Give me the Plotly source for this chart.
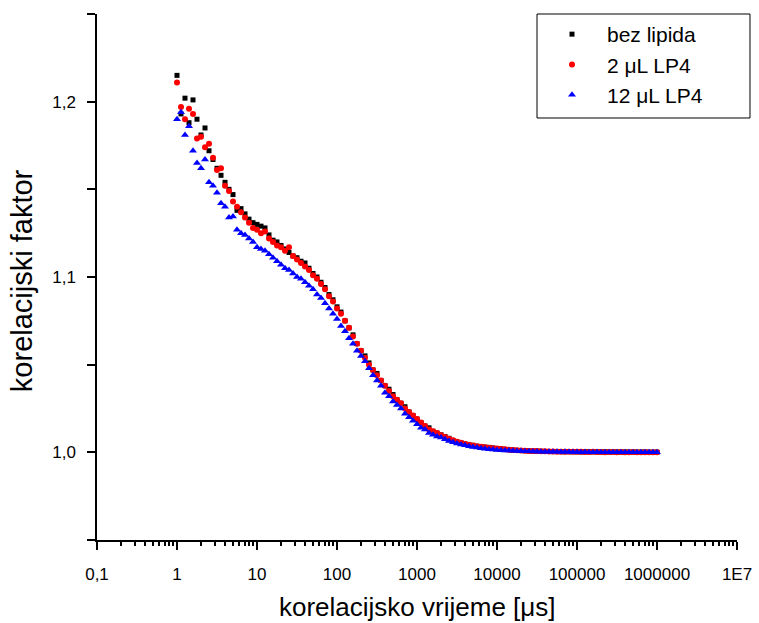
import plotly.graph_objects as go

# correlation time grid [µs]
tau_us = [
    1.0, 1.122, 1.259, 1.413, 1.585, 1.778, 1.995, 2.239, 2.512, 2.818,
    3.162, 3.548, 3.981, 4.467, 5.012, 5.623, 6.310, 7.079, 7.943, 8.913,
    10.0, 11.22, 12.59, 14.13, 15.85, 17.78, 19.95, 22.39, 25.12, 28.18,
    31.62, 35.48, 39.81, 44.67, 50.12, 56.23, 63.10, 70.79, 79.43, 89.13,
    100.0, 112.2, 125.9, 141.3, 158.5, 177.8, 199.5, 223.9, 251.2, 281.8,
    316.2, 354.8, 398.1, 446.7, 501.2, 562.3, 631.0, 707.9, 794.3, 891.3,
    1000.0, 1122.0, 1259.0, 1413.0, 1585.0, 1778.0, 1995.0, 2239.0, 2512.0, 2818.0,
    3162.0, 3548.0, 3981.0, 4467.0, 5012.0, 5623.0, 6310.0, 7079.0, 7943.0, 8913.0,
    10000.0, 11220.0, 12590.0, 14130.0, 15850.0, 17780.0, 19950.0, 22390.0, 25120.0, 28180.0,
    31620.0, 35480.0, 39810.0, 44670.0, 50120.0, 56230.0, 63100.0, 70790.0, 79430.0, 89130.0,
    100000.0, 112200.0, 125900.0, 141300.0, 158500.0, 177800.0, 199500.0, 223900.0, 251200.0, 281800.0,
    316200.0, 354800.0, 398100.0, 446700.0, 501200.0, 562300.0, 631000.0, 707900.0, 794300.0, 891300.0,
    1000000.0,
]

bez_lipida = [
    1.215, 1.193, 1.202, 1.188, 1.201, 1.190, 1.181, 1.185, 1.172, 1.167,
    1.162, 1.158, 1.154, 1.150, 1.147, 1.138, 1.139, 1.136, 1.133, 1.131,
    1.130, 1.129, 1.128, 1.124, 1.121, 1.120, 1.118, 1.116, 1.114, 1.112,
    1.111, 1.109, 1.108, 1.105, 1.102, 1.100, 1.097, 1.094, 1.090, 1.087,
    1.083, 1.080, 1.075, 1.071, 1.067, 1.062, 1.058, 1.055, 1.051, 1.047,
    1.045, 1.041, 1.038, 1.036, 1.033, 1.030, 1.028, 1.026, 1.023, 1.021,
    1.019, 1.017, 1.015, 1.014, 1.012, 1.011, 1.010, 1.009, 1.008, 1.0068,
    1.0060, 1.0055, 1.0048, 1.0043, 1.0040, 1.0035, 1.0032, 1.0030, 1.0028, 1.0025,
    1.0022, 1.0020, 1.0017, 1.0015, 1.0013, 1.0011, 1.0010, 1.0009, 1.0008, 1.0007,
    1.0007, 1.0006, 1.0005, 1.0005, 1.0004, 1.0005, 1.0004, 1.0003, 1.0004, 1.0003,
    1.0003, 1.0002, 1.0003, 1.0002, 1.0003, 1.0002, 1.0002, 1.0003, 1.0001, 1.0002,
    1.0002, 1.0001, 1.0002, 1.0001, 1.0002, 1.0001, 1.0001, 1.0002, 1.0000, 1.0001,
    1.0001,
]

lp4_2uL = [
    1.211, 1.197, 1.190, 1.196, 1.193, 1.179, 1.180, 1.174, 1.176, 1.168,
    1.161, 1.162, 1.152, 1.149, 1.143, 1.140, 1.137, 1.134, 1.131, 1.128,
    1.127, 1.125, 1.126, 1.122, 1.120, 1.118, 1.117, 1.115, 1.117, 1.112,
    1.110, 1.108, 1.106, 1.104, 1.101, 1.099, 1.096, 1.093, 1.089, 1.086,
    1.082, 1.079, 1.075, 1.071, 1.066, 1.062, 1.058, 1.054, 1.050, 1.047,
    1.044, 1.041, 1.038, 1.035, 1.032, 1.030, 1.028, 1.025, 1.023, 1.021,
    1.019, 1.017, 1.015, 1.013, 1.012, 1.011, 1.0098, 1.0088, 1.0078, 1.0069,
    1.0061, 1.0054, 1.0048, 1.0043, 1.0039, 1.0035, 1.0032, 1.0029, 1.0026, 1.0024,
    1.0022, 1.0019, 1.0017, 1.0015, 1.0013, 1.0012, 1.0010, 1.0009, 1.0008, 1.0008,
    1.0007, 1.0006, 1.0006, 1.0005, 1.0005, 1.0004, 1.0004, 1.0004, 1.0003, 1.0003,
    1.0003, 1.0003, 1.0002, 1.0002, 1.0003, 1.0002, 1.0002, 1.0001, 1.0002, 1.0002,
    1.0001, 1.0002, 1.0001, 1.0001, 1.0002, 1.0001, 1.0001, 1.0001, 1.0000, 1.0001,
    1.0001,
]

lp4_12uL = [
    1.190, 1.194, 1.181, 1.186, 1.172, 1.165, 1.162, 1.167, 1.154, 1.152,
    1.148, 1.142, 1.140, 1.134, 1.1345, 1.127, 1.125, 1.124, 1.122, 1.120,
    1.117, 1.116, 1.115, 1.113, 1.111, 1.109, 1.107, 1.105, 1.104, 1.102,
    1.100, 1.099, 1.097, 1.095, 1.093, 1.090, 1.088, 1.085, 1.082, 1.079,
    1.076, 1.072, 1.069, 1.065, 1.062, 1.058, 1.055, 1.052, 1.048, 1.044,
    1.041, 1.038, 1.034, 1.032, 1.029, 1.027, 1.025, 1.022, 1.020, 1.018,
    1.016, 1.014, 1.013, 1.011, 1.010, 1.009, 1.0085, 1.0075, 1.0065, 1.0058,
    1.0050, 1.0045, 1.0040, 1.0035, 1.0030, 1.0027, 1.0024, 1.0021, 1.0018, 1.0016,
    1.0014, 1.0012, 1.0011, 1.0010, 1.0009, 1.0008, 1.0007, 1.0006, 1.0006, 1.0005,
    1.0005, 1.0004, 1.0004, 1.0003, 1.0003, 1.0003, 1.0002, 1.0003, 1.0002, 1.0002,
    1.0002, 1.0001, 1.0002, 1.0001, 1.0001, 1.0002, 1.0001, 1.0001, 1.0000, 1.0001,
    1.0001, 1.0000, 1.0001, 1.0001, 1.0000, 1.0001, 1.0000, 1.0001, 1.0000, 1.0000,
    1.0001,
]

x_tick_vals = [0.1, 1, 10, 100, 1000, 10000, 100000, 1000000, 10000000]
x_tick_text = ["0,1", "1", "10", "100", "1000", "10000", "100000", "1000000", "1E7"]
y_tick_vals = [1.0, 1.1, 1.2]
y_tick_text = ["1,0", "1,1", "1,2"]
y_minor_vals = [0.95, 1.05, 1.15, 1.25]

x_minor_vals = [m * 10.0 ** d for d in range(-1, 7) for m in range(2, 10)]

fig = go.Figure()
fig.add_trace(go.Scatter(x=tau_us, y=bez_lipida, mode="markers", name="bez lipida",
                         marker=dict(symbol="square", size=5, color="black")))
fig.add_trace(go.Scatter(x=tau_us, y=lp4_2uL, mode="markers", name="2 μL LP4",
                         marker=dict(symbol="circle", size=6, color="red")))
fig.add_trace(go.Scatter(x=tau_us, y=lp4_12uL, mode="markers", name="12 μL LP4",
                         marker=dict(symbol="triangle-up", size=7, color="blue")))

fig.update_layout(
    width=759, height=623,
    margin=dict(l=97, r=22, t=14, b=83, autoexpand=False),
    plot_bgcolor="white", paper_bgcolor="white",
    font=dict(family="Liberation Sans, Arial, sans-serif", color="black"),
    legend=dict(x=0.6875, y=1.0, xanchor="left", yanchor="top",
                bgcolor="rgba(0,0,0,0)", borderwidth=0,
                font=dict(size=21), itemwidth=60),
    shapes=[
        dict(type="rect", xref="paper", yref="paper",
             x0=0.6875, x1=1.0203, y0=0.8023, y1=1.0,
             line=dict(color="black", width=1), fillcolor="rgba(0,0,0,0)", layer="below"),
    ],
    annotations=[
        dict(text="korelacijsko vrijeme [μs]", xref="paper", yref="paper",
             x=0.5, y=-0.1274, xanchor="center", yanchor="middle",
             showarrow=False, font=dict(size=26)),
        dict(text="korelacijski faktor", xref="paper", yref="paper",
             x=-0.1172, y=0.494, xanchor="center", yanchor="middle",
             textangle=-90, showarrow=False, font=dict(size=29)),
    ],
)
fig.update_xaxes(type="log", range=[-1, 7], showgrid=False, zeroline=False,
                 automargin=False,
                 showline=True, linecolor="black", linewidth=1.5,
                 ticks="outside", ticklen=8, tickwidth=1.5, tickcolor="black",
                 tickmode="array", tickvals=x_tick_vals, ticktext=x_tick_text,
                 tickfont=dict(size=17), ticklabelstandoff=10,
                 minor=dict(tickmode="array", tickvals=x_minor_vals, ticks="outside",
                            ticklen=4, tickwidth=1.5, tickcolor="black", showgrid=False))
fig.update_yaxes(range=[0.95, 1.25], showgrid=False, zeroline=False,
                 automargin=False,
                 showline=True, linecolor="black", linewidth=1.5,
                 ticks="outside", ticklen=8, tickwidth=1.5, tickcolor="black",
                 tickmode="array", tickvals=y_tick_vals, ticktext=y_tick_text,
                 tickfont=dict(size=17), ticklabelstandoff=8,
                 minor=dict(tickmode="array", tickvals=y_minor_vals, ticks="outside",
                            ticklen=8, tickwidth=1.5, tickcolor="black", showgrid=False))

fig.write_html("out.html", config={"displayModeBar": False},
               post_script="document.body.style.margin='0';")
